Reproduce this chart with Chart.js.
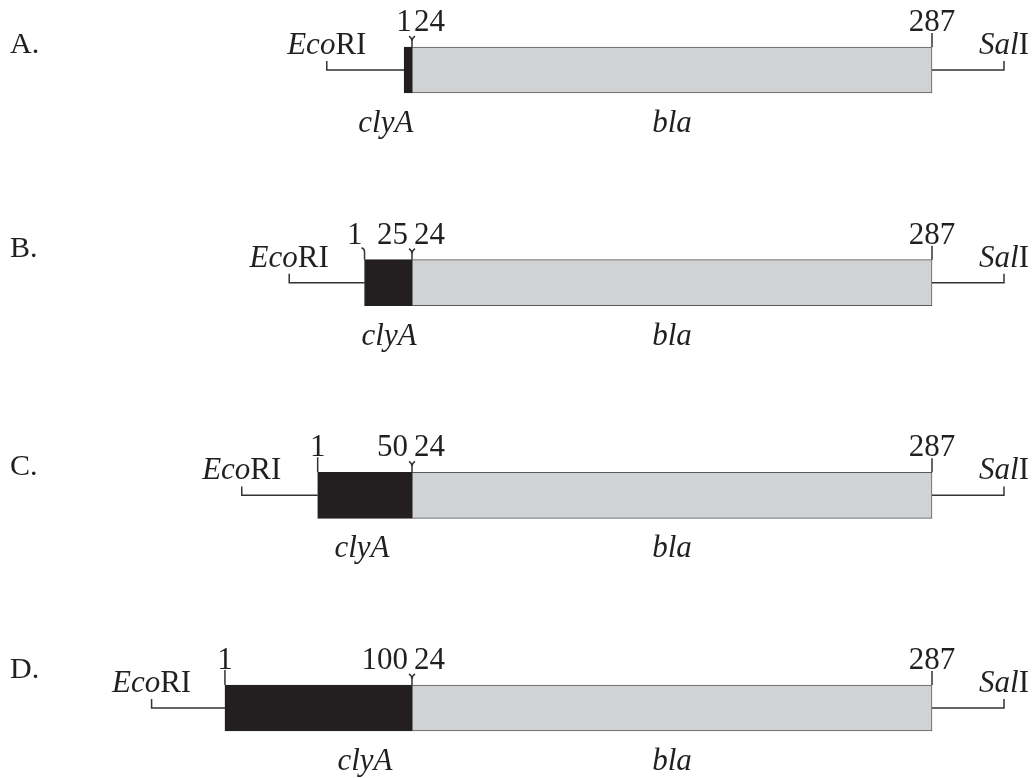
<!DOCTYPE html>
<html><head><meta charset="utf-8">
<script src="https://cdn.jsdelivr.net/npm/chart.js@4.4.1/dist/chart.umd.min.js"></script>
<style>html,body{margin:0;padding:0;background:#fff;}#wrap{width:1032px;height:778px;position:relative;}</style>
</head><body><div id="wrap"><canvas id="c"></canvas></div>
<script>
// ---- data (x positions in bla residue numbering; junction = bla residue 24) ----
const rowLabels = ['A.', 'B.', 'C.', 'D.'];
const clyaStartLabels = ['1', '1', '1', '1'];
const clyaEndLabels = ['', '25', '50', '100'];
const blaStartLabel = '24';
const blaEndLabel = '287';
const clyaStart = [20, 0, -23.7, -70.6];     // drawn start of clyA segment
const junction = [24, 24, 24, 24];           // clyA / bla fusion point
const blaEnd = [287, 287, 287, 287];
const ecoRISite = [-19.1, -38.1, -62.1, -107.7];
const salISite = [323.4, 323.4, 323.4, 323.4];

// ---- layout / style constants ----
const BAR_H = 46;
const FONT = '"Liberation Serif", "Times New Roman", serif';
const INK = '#231f20';
const startMarker = ['none', 'hook', 'line', 'line'];
const startAlign = ['center', 'right', 'center', 'center'];
const rowLabelDy = [6, -3, 3, -7];
const clyaLabelX = [10.8, 12.4, -1.3, 0.2];   // in x units
const TICK_U = 0.042;

const rowIdx = rowLabels.map((_, i) => i);
const datasets = [
  { type: 'bar', label: 'clyA', indexAxis: 'y', grouped: false, barThickness: BAR_H,
    data: rowIdx.map(i => ({ y: i, x: [clyaStart[i], junction[i]] })),
    backgroundColor: '#231f20', borderColor: '#231f20', borderWidth: 1, borderSkipped: false },
  { type: 'bar', label: 'bla', indexAxis: 'y', grouped: false, barThickness: BAR_H,
    data: rowIdx.map(i => ({ y: i, x: [junction[i], blaEnd[i]] })),
    backgroundColor: '#d1d2d4', borderColor: '#58595b', borderWidth: 1, borderSkipped: false }
];
rowIdx.forEach(i => {
  datasets.push({ type: 'line', label: 'EcoRI ' + i, data: [
      { x: ecoRISite[i], y: i - TICK_U }, { x: ecoRISite[i], y: i }, { x: clyaStart[i], y: i }],
    borderColor: '#333', borderWidth: 1.5, pointRadius: 0, tension: 0, fill: false });
  datasets.push({ type: 'line', label: 'SalI ' + i, data: [
      { x: blaEnd[i], y: i }, { x: salISite[i], y: i }, { x: salISite[i], y: i - TICK_U }],
    borderColor: '#333', borderWidth: 1.5, pointRadius: 0, tension: 0, fill: false });
});

function drawMixed(ctx, parts, x, y, align) {
  // parts: [[text, italic], ...]
  const widths = parts.map(p => { ctx.font = (p[1] ? 'italic ' : '') + '31px ' + FONT; return ctx.measureText(p[0]).width; });
  const total = widths.reduce((a, b) => a + b, 0);
  let cx = align === 'center' ? x - total / 2 : (align === 'right' ? x - total : x);
  ctx.textAlign = 'left';
  parts.forEach((p, k) => {
    ctx.font = (p[1] ? 'italic ' : '') + '31px ' + FONT;
    ctx.fillText(p[0], cx, y);
    cx += widths[k];
  });
}

const annot = {
  id: 'annot',
  afterDatasetsDraw(chart) {
    const ctx = chart.ctx, xs = chart.scales.x, ys = chart.scales.y;
    ctx.save();
    ctx.fillStyle = INK;
    ctx.strokeStyle = '#333';
    ctx.lineWidth = 1.5;
    ctx.textBaseline = 'alphabetic';
    rowIdx.forEach(i => {
      const cy = ys.getPixelForValue(i);
      const top = cy - BAR_H / 2, bot = cy + BAR_H / 2;
      const sx = xs.getPixelForValue(clyaStart[i]);
      const jx = xs.getPixelForValue(junction[i]);
      const ex = xs.getPixelForValue(blaEnd[i]);
      // markers
      ctx.beginPath();
      ctx.moveTo(jx, top); ctx.lineTo(jx, top - 6);
      ctx.moveTo(jx - 3, top - 11); ctx.quadraticCurveTo(jx, top - 9, jx, top - 6);
      ctx.quadraticCurveTo(jx, top - 9, jx + 3, top - 11);
      ctx.moveTo(ex, top); ctx.lineTo(ex, top - 14);
      if (startMarker[i] === 'line') { ctx.moveTo(sx, top); ctx.lineTo(sx, top - 15); }
      if (startMarker[i] === 'hook') { ctx.moveTo(sx, top); ctx.lineTo(sx, top - 8); ctx.quadraticCurveTo(sx, top - 11, sx - 3, top - 12); }
      ctx.stroke();
      // numbers
      ctx.font = '31px ' + FONT;
      const nb = top - 16;
      ctx.textAlign = startAlign[i];
      ctx.fillText(clyaStartLabels[i], startAlign[i] === 'right' ? sx - 2 : sx, nb);
      if (clyaEndLabels[i]) { ctx.textAlign = 'right'; ctx.fillText(clyaEndLabels[i], jx - 4, nb); }
      ctx.textAlign = 'left'; ctx.fillText(blaStartLabel, jx + 2, nb);
      ctx.textAlign = 'center'; ctx.fillText(blaEndLabel, ex, nb);
      // row label
      ctx.font = '30px ' + FONT; ctx.textAlign = 'left';
      ctx.fillText(rowLabels[i], 10, top + rowLabelDy[i]);
      // restriction sites
      drawMixed(ctx, [['Eco', true], ['RI', false]], xs.getPixelForValue(ecoRISite[i]), top + 7, 'center');
      drawMixed(ctx, [['Sal', true], ['I', false]], xs.getPixelForValue(salISite[i]), top + 7, 'center');
      // gene names
      ctx.font = 'italic 31px ' + FONT; ctx.textAlign = 'center';
      ctx.fillText('clyA', xs.getPixelForValue(clyaLabelX[i]), bot + 39);
      ctx.fillText('bla', (jx + ex) / 2, bot + 39);
    });
    ctx.restore();
  }
};

new Chart(document.getElementById('c'), {
  type: 'bar',
  data: { datasets },
  options: {
    responsive: true, maintainAspectRatio: false, animation: false,
    layout: { padding: 0 },
    plugins: { legend: { display: false }, tooltip: { enabled: false } },
    scales: {
      x: { type: 'linear', min: -184.37, max: 337.57, display: false, offset: false, grid: { display: false } },
      y: { type: 'linear', min: -0.3292, max: 3.3292, reverse: true, display: false, offset: false, grid: { display: false } }
    }
  },
  plugins: [annot]
});
</script></body></html>
